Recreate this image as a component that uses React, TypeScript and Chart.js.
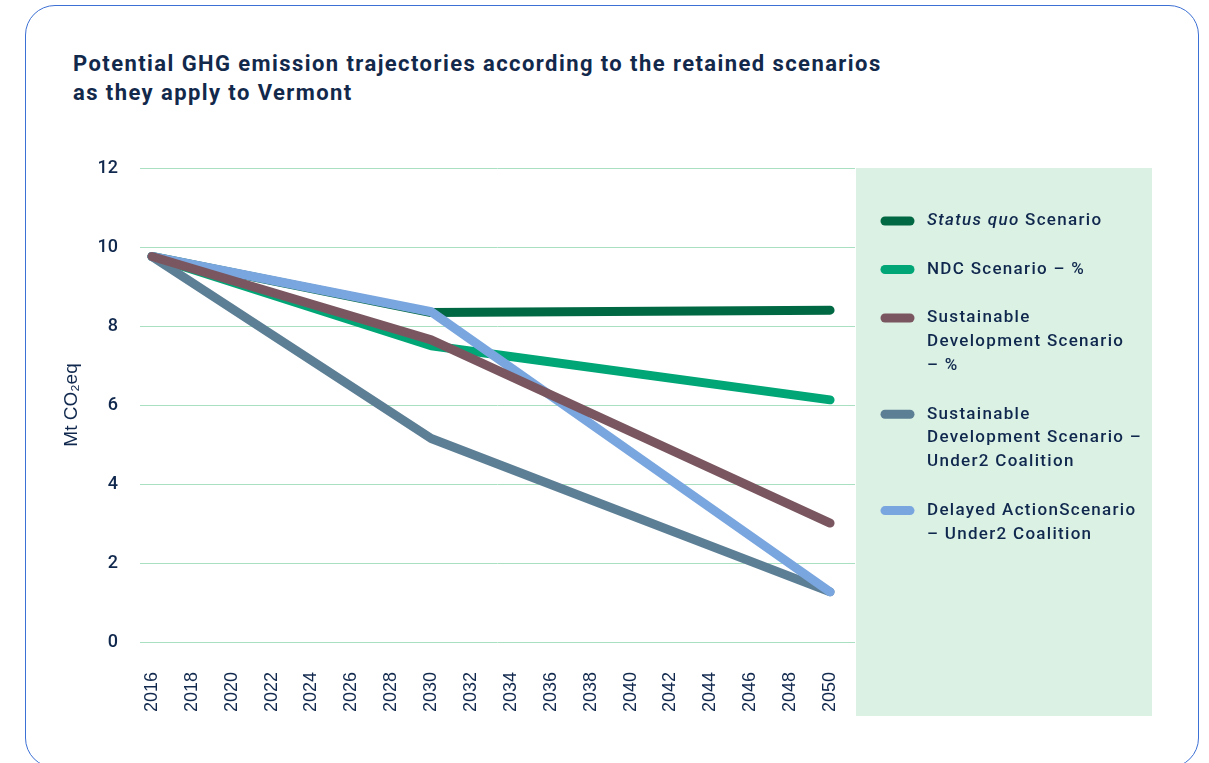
import React, { useEffect, useRef } from "react";
import { Chart, registerables } from "chart.js";

Chart.register(...registerables);

// Break-point years of each trajectory
const years = [2016, 2030, 2050];
// Labelled ticks on the time axis
const tickYears = [
  2016, 2018, 2020, 2022, 2024, 2026, 2028, 2030, 2032, 2034, 2036, 2038, 2040,
  2042, 2044, 2046, 2048, 2050,
];
const yTicks = [0, 2, 4, 6, 8, 10, 12];

// Emissions, Mt CO2eq
const statusQuo = [9.76, 8.34, 8.4];
const ndc = [9.76, 7.5, 6.13];
const sustainablePct = [9.76, 7.65, 3.01];
const sustainableUnder2 = [9.76, 5.15, 1.27];
const delayedUnder2 = [9.76, 8.36, 1.27];

const seriesValues = [statusQuo, ndc, sustainablePct, sustainableUnder2, delayedUnder2];
const seriesNames = [
  ["Status quo Scenario"],
  ["NDC Scenario – %"],
  ["Sustainable", "Development Scenario", "– %"],
  ["Sustainable", "Development Scenario –", "Under2 Coalition"],
  ["Delayed ActionScenario", "– Under2 Coalition"],
];
const seriesColors = ["#006842", "#00a676", "#7a5760", "#5d7f95", "#7aa6df"];
// Stacking of the lines: lower number sits on top
const seriesOrder = [4, 3, 0, 2, 1];
const italicPhrase = "Status quo";

const NAVY = "#10284d";
const GRID = "#a9e0c2";
const PANEL = "#dbf1e4";
const LEGEND_FONT = "500 17px Roboto";
const LEGEND_FONT_ITALIC = "italic 500 17px Roboto";

const sideLegend = {
  id: "sideLegend",
  afterDraw(chart: any) {
    const { ctx, chartArea } = chart;
    const x0 = chartArea.right + 1;
    const y0 = chartArea.top;
    ctx.save();
    ctx.fillStyle = PANEL;
    ctx.fillRect(x0, y0, 296, 548);

    const lineH = 23.9;
    const gap = 24.6;
    let y = y0 + 53;
    ctx.textBaseline = "middle";
    ctx.textAlign = "left";
    (ctx as any).letterSpacing = "1.3px";
    chart.data.datasets.forEach((ds: any, i: number) => {
      ctx.strokeStyle = ds.borderColor;
      ctx.lineWidth = 9;
      ctx.lineCap = "round";
      ctx.beginPath();
      ctx.moveTo(x0 + 29, y);
      ctx.lineTo(x0 + 54, y);
      ctx.stroke();

      ctx.fillStyle = NAVY;
      const tx = x0 + 71;
      seriesNames[i].forEach((line, j) => {
        const ly = y + j * lineH;
        if (line.startsWith(italicPhrase)) {
          ctx.font = LEGEND_FONT_ITALIC;
          ctx.fillText(italicPhrase, tx, ly);
          const w = ctx.measureText(italicPhrase).width;
          ctx.font = LEGEND_FONT;
          ctx.fillText(line.slice(italicPhrase.length), tx + w, ly);
        } else {
          ctx.font = LEGEND_FONT;
          ctx.fillText(line, tx, ly);
        }
      });
      y += seriesNames[i].length * lineH + gap;
    });
    ctx.restore();
  },
};

export default function App() {
  const canvasRef = useRef<HTMLCanvasElement | null>(null);

  useEffect(() => {
    const canvas = canvasRef.current;
    if (!canvas) return;
    const chart = new Chart(canvas, {
      type: "line",
      data: {
        datasets: seriesValues.map((vals, i) => ({
          label: seriesNames[i].join(" "),
          data: years.map((yr, k) => ({ x: yr, y: vals[k] })),
          borderColor: seriesColors[i],
          backgroundColor: seriesColors[i],
          borderWidth: 9,
          borderCapStyle: "round" as const,
          borderJoinStyle: "round" as const,
          pointRadius: 0,
          tension: 0,
          fill: false,
          order: seriesOrder[i],
        })),
      },
      options: {
        animation: false,
        responsive: false,
        events: [],
        layout: { padding: { left: 56, right: 354, top: 168, bottom: 51 } },
        plugins: {
          legend: { display: false },
          tooltip: { enabled: false },
          title: { display: false },
        },
        scales: {
          x: {
            type: "linear",
            min: 2015.4,
            max: 2051.25,
            afterBuildTicks: (axis: any) => {
              axis.ticks = tickYears.map((v) => ({ value: v }));
            },
            afterFit: (axis: any) => {
              axis.height = 70;
            },
            grid: { display: false, drawTicks: false },
            border: { display: false },
            ticks: {
              autoSkip: false,
              maxRotation: 90,
              minRotation: 90,
              padding: 30,
              color: NAVY,
              font: { family: "'Liberation Sans', Arial, sans-serif", size: 18 },
              callback: (v: any) => String(v),
            },
          },
          y: {
            min: 0,
            max: 12,
            afterBuildTicks: (axis: any) => {
              axis.ticks = yTicks.map((v) => ({ value: v }));
            },
            afterFit: (axis: any) => {
              axis.width = 84;
            },
            grid: { color: GRID, lineWidth: 1, drawTicks: false },
            border: { display: false },
            ticks: {
              padding: 22,
              color: NAVY,
              font: { family: "Roboto", size: 18, weight: 500 },
            },
            title: {
              display: true,
              text: "Mt CO₂eq",
              color: NAVY,
              padding: { top: 4, bottom: 4 },
              font: { family: "'Liberation Sans', Arial, sans-serif", size: 19 },
            },
          },
        },
      },
      plugins: [sideLegend],
    });
    return () => chart.destroy();
  }, []);

  return (
    <div
      style={{
        position: "fixed",
        left: 0,
        top: 0,
        width: 1209,
        height: 763,
        background: "#ffffff",
        overflow: "hidden",
      }}
    >
      <div
        style={{
          position: "absolute",
          left: 25,
          top: 5,
          width: 1174,
          height: 763,
          border: "1.5px solid #3d70d4",
          borderRadius: 30,
          boxSizing: "border-box",
        }}
      />
      <div
        style={{
          position: "absolute",
          left: 73,
          top: 49,
          fontFamily: "Roboto, sans-serif",
          fontWeight: 700,
          fontSize: 22,
          lineHeight: "29px",
          letterSpacing: "1.42px",
          color: "#13294b",
          whiteSpace: "nowrap",
        }}
      >
        Potential GHG emission trajectories according to the retained scenarios
        <br />
        as they apply to Vermont
      </div>
      <canvas
        ref={canvasRef}
        width={1209}
        height={763}
        style={{ position: "absolute", left: 0, top: 0, width: 1209, height: 763 }}
      />
    </div>
  );
}
